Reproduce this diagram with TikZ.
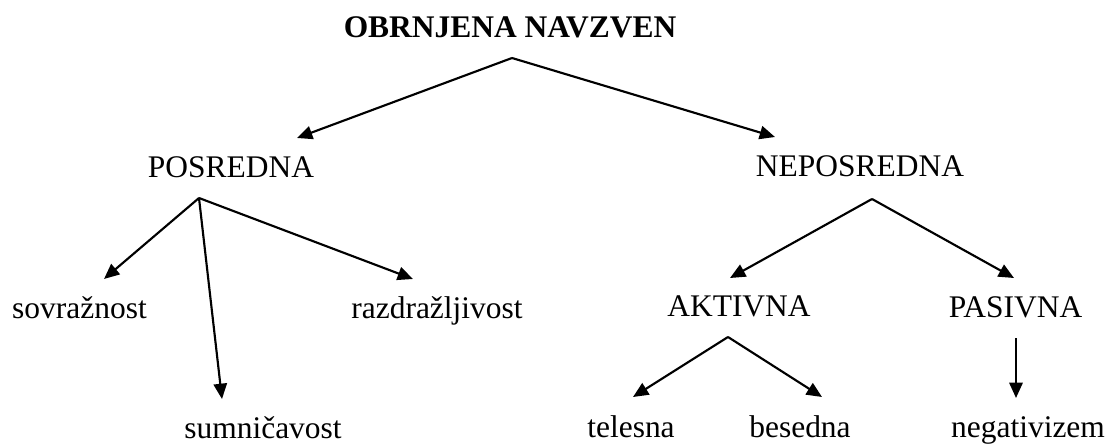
\documentclass[tikz,border=0pt]{standalone}
\usepackage{fontspec}
\setmainfont{Liberation Serif}
\usepackage{tikz}
\usetikzlibrary{arrows.meta}

\begin{document}
\begin{tikzpicture}[x=0.75pt,y=0.75pt,yscale=-1,xscale=1,
  lbl/.style={anchor=base,inner sep=0.75pt,font=\fontsize{23.6}{28}\selectfont},
  arr/.style={line width=1.6pt,-{Triangle[length=11.5pt,width=10pt]}}]
\useasboundingbox (0,0) rectangle (1110,445);

% Text Node
\node[lbl,font=\fontsize{23.6}{28}\selectfont\bfseries] (top) at (510,38) {OBRNJENA NAVZVEN};
% Text Node
\node[lbl] (posredna) at (231,178) {POSREDNA};
% Text Node
\node[lbl] (neposredna) at (860,177) {NEPOSREDNA};
% Text Node
\node[lbl] (sovraznost) at (79.5,319) {sovražnost};
% Text Node
\node[lbl] (razdrazljivost) at (437,319) {razdražljivost};
% Text Node
\node[lbl] (sumnicavost) at (263,438) {sumničavost};
% Text Node
\node[lbl] (aktivna) at (739,316) {AKTIVNA};
% Text Node
\node[lbl] (pasivna) at (1015.5,317) {PASIVNA};
% Text Node
\node[lbl] (telesna) at (631,437) {telesna};
% Text Node
\node[lbl] (besedna) at (800,437) {besedna};
% Text Node
\node[lbl] (negativizem) at (1028,437) {negativizem};

%line ends
\coordinate (top-out) at (512,58);
\coordinate (posredna-in) at (297,138);
\coordinate (neposredna-in) at (775,137);
\coordinate (posredna-out) at (199,198);
\coordinate (sovraznost-in) at (104,279);
\coordinate (sumnicavost-in) at (222,399);
\coordinate (razdrazljivost-in) at (413,279);
\coordinate (neposredna-out) at (872,199);
\coordinate (aktivna-in) at (730,278);
\coordinate (pasivna-in) at (1014,278);
\coordinate (aktivna-out) at (728,337);
\coordinate (telesna-in) at (633,397);
\coordinate (besedna-in) at (822,397);
\coordinate (pasivna-out) at (1016,338);
\coordinate (negativizem-in) at (1016,398);

%Straight Lines
\draw[arr] (top-out) -- (posredna-in);
\draw[arr] (top-out) -- (neposredna-in);
%Straight Lines
\draw[arr] (posredna-out) -- (sovraznost-in);
\draw[arr] (posredna-out) -- (sumnicavost-in);
\draw[arr] (posredna-out) -- (razdrazljivost-in);
%Straight Lines
\draw[arr] (neposredna-out) -- (aktivna-in);
\draw[arr] (neposredna-out) -- (pasivna-in);
%Straight Lines
\draw[arr] (aktivna-out) -- (telesna-in);
\draw[arr] (aktivna-out) -- (besedna-in);
\draw[arr] (pasivna-out) -- (negativizem-in);

\end{tikzpicture}
\end{document}
